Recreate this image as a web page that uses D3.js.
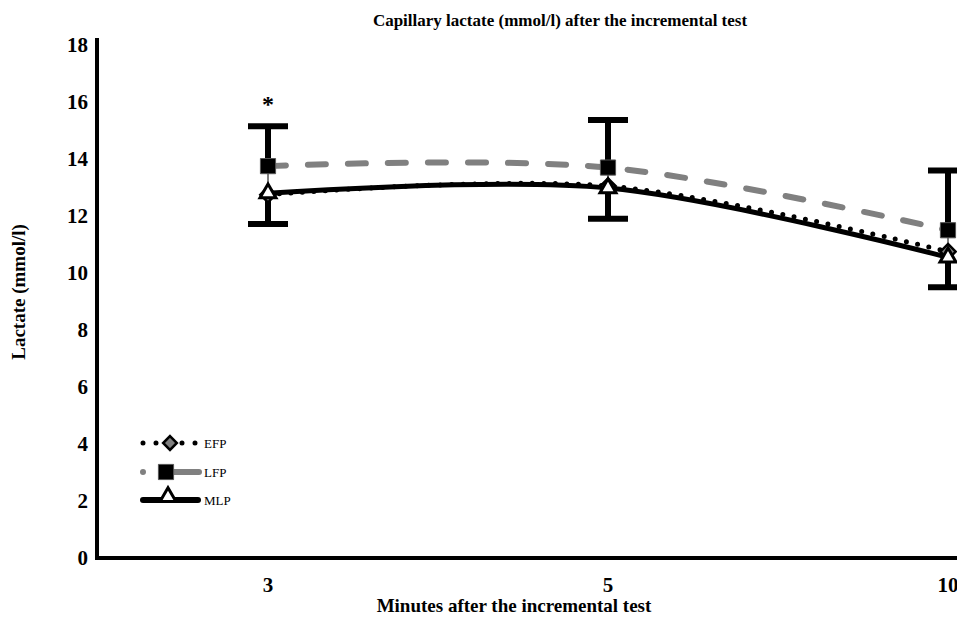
<!DOCTYPE html>
<html>
<head>
  <title>Capillary lactate</title>
  <script src="https://d3js.org/d3.v7.min.js"></script>
  <style>
    body { margin: 0; background: #fff; }
    text { font-family: "Liberation Serif", "Times New Roman", serif; font-weight: bold; }
  </style>
</head>
<body>
  <svg id="chart"></svg>

  <script>
    // minutes after test
    var minutes = ["3", "5", "10"];
    var efp = [12.75, 13.05, 10.75];
    var lfp = [13.75, 13.7, 11.5];
    var mlp = [12.8, 12.98, 10.55];
    // error bars (up for LFP, down for MLP)
    var lfpErrUp = [1.4, 1.67, 2.1];
    var mlpErrDown = [1.08, 1.08, 1.05];
    var yTicks = [0, 2, 4, 6, 8, 10, 12, 14, 16, 18];
    var seriesNames = ["EFP", "LFP", "MLP"];

    var W = 957, H = 618;
    var svg = d3.select("#chart").attr("width", W).attr("height", H);

    var x = d3.scaleBand().domain(minutes).range([98, 1118]);
    var y = d3.scaleLinear().domain([0, 18]).range([558, 45]);
    var cx = function(i) { return x(minutes[i]) + x.bandwidth() / 2; };

    // axes
    svg.append("line").attr("x1", 97).attr("x2", 97).attr("y1", 38).attr("y2", 560)
      .attr("stroke", "#000").attr("stroke-width", 4);
    svg.append("line").attr("x1", 95).attr("x2", W).attr("y1", 558).attr("y2", 558)
      .attr("stroke", "#000").attr("stroke-width", 4);

    svg.selectAll(".ytick").data(yTicks).enter().append("text")
      .attr("x", 88).attr("y", function(d) { return y(d); })
      .attr("dy", "0.35em").attr("text-anchor", "end")
      .attr("font-size", 21).text(function(d) { return d; });

    svg.selectAll(".xtick").data(minutes).enter().append("text")
      .attr("x", function(d, i) { return cx(i); }).attr("y", 592)
      .attr("text-anchor", "middle").attr("font-size", 21)
      .text(function(d) { return d; });

    svg.append("text").attr("x", 560).attr("y", 26).attr("text-anchor", "middle")
      .attr("font-size", 17).text("Capillary lactate (mmol/l) after the incremental test");
    svg.append("text").attr("x", 514).attr("y", 612).attr("text-anchor", "middle")
      .attr("font-size", 19).text("Minutes after the incremental test");
    svg.append("text").attr("transform", "translate(25,292) rotate(-90)")
      .attr("text-anchor", "middle").attr("font-size", 19).text("Lactate (mmol/l)");

    var line = d3.line()
      .x(function(d, i) { return cx(i); })
      .y(function(d) { return y(d); })
      .curve(d3.curveCatmullRom.alpha(0));

    // lines
    svg.append("path").datum(lfp).attr("d", line).attr("fill", "none")
      .attr("stroke", "#808080").attr("stroke-width", 6)
      .attr("stroke-dasharray", "18 22").attr("stroke-linecap", "round");
    svg.append("path").datum(mlp).attr("d", line).attr("fill", "none")
      .attr("stroke", "#000").attr("stroke-width", 5);
    svg.append("path").datum(efp).attr("d", line).attr("fill", "none")
      .attr("stroke", "#000").attr("stroke-width", 5)
      .attr("stroke-dasharray", "0 11.5").attr("stroke-linecap", "round");

    // error bars
    var g = svg.append("g");
    minutes.forEach(function(m, i) {
      var px = cx(i);
      var top = y(lfp[i] + lfpErrUp[i]);
      var bot = y(mlp[i] - mlpErrDown[i]);
      g.append("line").attr("x1", px).attr("x2", px).attr("y1", y(lfp[i])).attr("y2", y(mlp[i]))
        .attr("stroke", "#000").attr("stroke-width", 1);
      g.append("line").attr("x1", px).attr("x2", px).attr("y1", top).attr("y2", y(lfp[i]))
        .attr("stroke", "#000").attr("stroke-width", 6);
      g.append("line").attr("x1", px).attr("x2", px).attr("y1", bot).attr("y2", y(mlp[i]))
        .attr("stroke", "#000").attr("stroke-width", 6);
      g.append("line").attr("x1", px - 20).attr("x2", px + 20).attr("y1", top).attr("y2", top)
        .attr("stroke", "#000").attr("stroke-width", 6);
      g.append("line").attr("x1", px - 20).attr("x2", px + 20).attr("y1", bot).attr("y2", bot)
        .attr("stroke", "#000").attr("stroke-width", 6);
    });

    // markers
    var diamond = d3.symbol().type(d3.symbolDiamond2 || d3.symbolDiamond).size(150);
    var square = d3.symbol().type(d3.symbolSquare).size(230);
    var tri = d3.symbol().type(d3.symbolTriangle).size(110);

    function drawMarkers(vals, sym, fill, stroke, sw) {
      svg.append("g").selectAll("path").data(vals).enter().append("path")
        .attr("d", sym)
        .attr("transform", function(d, i) { return "translate(" + cx(i) + "," + y(d) + ")"; })
        .attr("fill", fill).attr("stroke", stroke).attr("stroke-width", sw);
    }
    drawMarkers(efp, diamond, "#808080", "#000", 2.5);
    drawMarkers(lfp, square, "#000", "#555", 1);
    drawMarkers(mlp, tri, "#fff", "#000", 3);

    // asterisk
    svg.append("text").attr("x", cx(0)).attr("y", 112).attr("text-anchor", "middle")
      .attr("font-size", 24).text("*");

    // legend
    var leg = svg.append("g");
    var ly = [443, 472, 500];
    leg.append("line").attr("x1", 143).attr("x2", 198).attr("y1", ly[0]).attr("y2", ly[0])
      .attr("stroke", "#000").attr("stroke-width", 5)
      .attr("stroke-dasharray", "0 13").attr("stroke-linecap", "round");
    leg.append("path").attr("d", diamond.size(120)()).attr("transform", "translate(170," + ly[0] + ")")
      .attr("fill", "#808080").attr("stroke", "#000").attr("stroke-width", 2.5);
    leg.append("line").attr("x1", 143).attr("x2", 199).attr("y1", ly[1]).attr("y2", ly[1])
      .attr("stroke", "#808080").attr("stroke-width", 6)
      .attr("stroke-dasharray", "0 20 40").attr("stroke-linecap", "round");
    leg.append("path").attr("d", square.size(230)()).attr("transform", "translate(166," + ly[1] + ")")
      .attr("fill", "#000").attr("stroke", "#555").attr("stroke-width", 1);
    leg.append("line").attr("x1", 143).attr("x2", 198).attr("y1", ly[2]).attr("y2", ly[2])
      .attr("stroke", "#000").attr("stroke-width", 6).attr("stroke-linecap", "round");
    leg.append("path").attr("d", tri.size(110)()).attr("transform", "translate(168," + (ly[2] - 3) + ")")
      .attr("fill", "#fff").attr("stroke", "#000").attr("stroke-width", 3);
    leg.selectAll("text").data(seriesNames).enter().append("text")
      .attr("x", 204).attr("y", function(d, i) { return ly[i] + 5; })
      .attr("font-size", 13).style("font-weight", "normal")
      .text(function(d) { return d; });
  </script>
</body>
</html>
